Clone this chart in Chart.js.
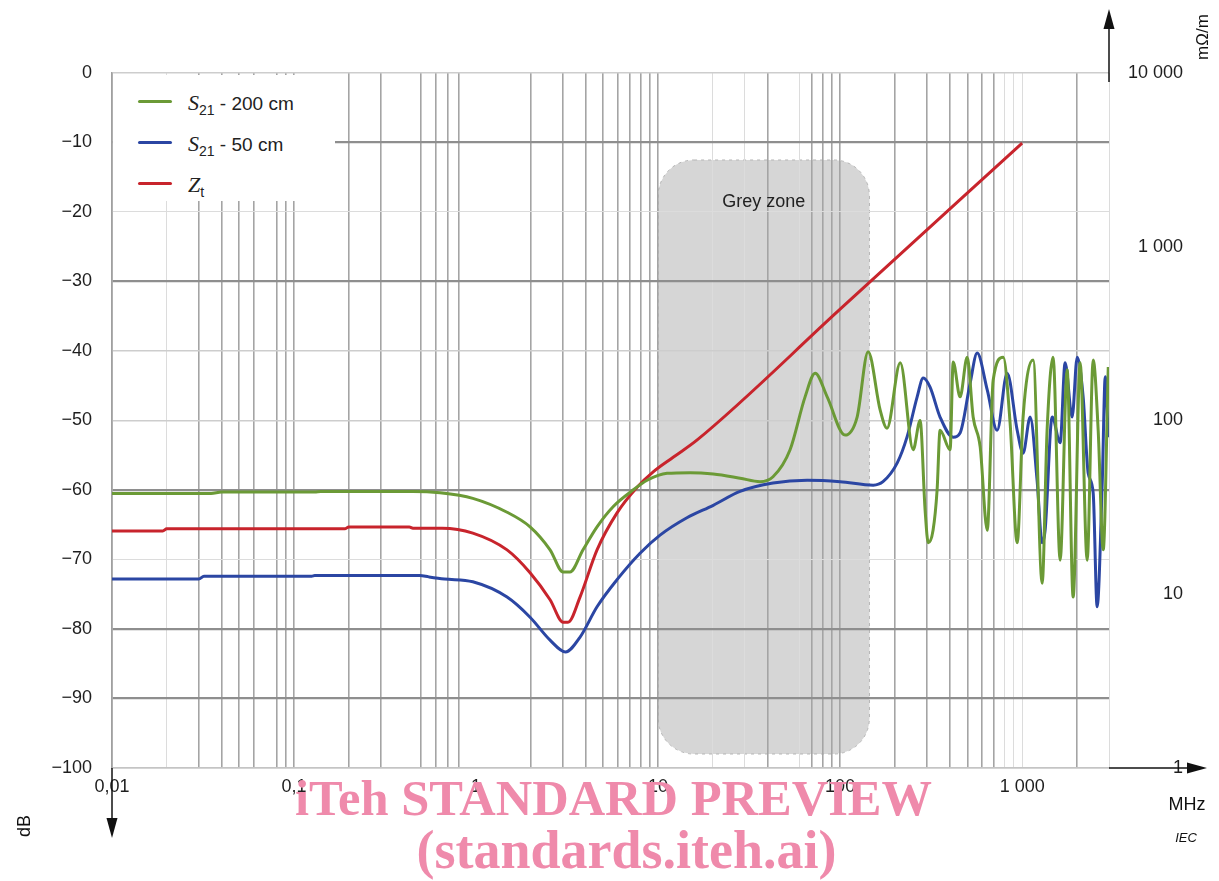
<!DOCTYPE html>
<html>
<head>
<meta charset="utf-8">
<title>S21 and Zt versus frequency</title>
<script src="https://cdn.jsdelivr.net/npm/chart.js@4.4.1/dist/chart.umd.min.js"></script>
<style>
  html, body { margin: 0; padding: 0; background: #fff; }
  #wrap { position: relative; width: 1219px; height: 881px; overflow: hidden; }
  #chart { position: absolute; left: 0; top: 0; }
  #legend { position: absolute; left: 113px; top: 75px; width: 222px; height: 126px; background: #fff; }
  .row { position: absolute; left: 0; height: 24px; width: 222px; }
  .swatch { position: absolute; left: 25px; top: 10px; width: 34px; height: 3px; border-radius: 2px; }
  .txt { position: absolute; left: 75px; top: 0; font: 19px "Liberation Sans", Arial, sans-serif; color: #222; line-height: 24px; white-space: nowrap; }
  .txt i { font: italic 22px "Liberation Serif", "Times New Roman", serif; }
  .txt sub { font-size: 14px; vertical-align: -5px; line-height: 0; }
  .mark { position: absolute; left: 0; width: 1219px; text-align: center; font-family: "Liberation Serif", "Times New Roman", serif; font-weight: bold; color: #ef8aab; white-space: nowrap; }
</style>
</head>
<body>
<div id="wrap">
  <canvas id="chart" width="1219" height="881"></canvas>
  <div id="legend">
    <div class="row" style="top:15px"><div class="swatch" style="background:#6b9a36"></div><div class="txt"><i>S</i><sub>21</sub> - 200 cm</div></div>
    <div class="row" style="top:56px"><div class="swatch" style="background:#2b46a3"></div><div class="txt"><i>S</i><sub>21</sub> - 50 cm</div></div>
    <div class="row" style="top:97px"><div class="swatch" style="background:#c8242c"></div><div class="txt"><i>Z</i><sub>t</sub></div></div>
  </div>
  <div class="mark" style="top:773px; left:4px; font-size:50.5px; line-height:50px;">iTeh STANDARD PREVIEW</div>
  <div class="mark" style="top:823px; left:17px; font-size:54px; line-height:54px;">(standards.iteh.ai)</div>
</div>
<script>
// S21 - 200 cm (MHz, dB)
var s21LongFreq = [0.01, 0.035, 0.04, 0.13, 0.14, 0.45, 0.634, 0.96, 1.48, 1.98, 2.55, 3.01, 3.28, 3.87, 4.62, 5.66, 7.29, 8.71,
  11.2, 15.0, 20.1, 28.2, 36.3, 42.8, 53.1, 64.2, 72.9, 84.9, 106.4, 124, 142.5, 166, 181, 214,
  252, 275, 293, 305, 324, 341, 354, 402, 418, 456, 499, 538, 588, 643, 693, 787, 859, 939, 1012,
  1149, 1288, 1371, 1479, 1617, 1767, 1906, 2083, 2276, 2456, 2616, 2788, 2972];
var s21LongDb = [-60.5, -60.5, -60.3, -60.3, -60.2, -60.2, -60.4, -61.2, -63.2, -65.3, -68.6, -71.8, -71.8, -68.6, -65.3, -62.4, -60.0, -58.6,
  -57.6, -57.5, -57.7, -58.3, -58.8, -58.1, -54.2, -46.6, -43.2, -46.6, -52.1, -49.5, -40.1, -48.5, -51.1, -41.7,
  -54.2, -50.0, -62.9, -67.6, -65.8, -60.0, -51.4, -54.2, -41.6, -46.6, -40.9, -49.5, -53.8, -65.8, -44.2, -40.9, -50.4, -67.6, -49.5,
  -41.3, -73.4, -51.4, -40.9, -70.1, -42.7, -75.4, -41.7, -70.1, -41.3, -51.4, -68.6, -42.3];

// S21 - 50 cm (MHz, dB)
var s21ShortFreq = [0.01, 0.03, 0.032, 0.125, 0.13, 0.49, 0.55, 0.67, 0.96, 1.48, 1.98, 2.55, 3.1, 3.72, 4.62, 5.95, 7.96, 10.25,
  14.4, 20.1, 28.2, 42.8, 65.9, 100, 152, 172, 206, 233, 265, 286, 312, 354, 418, 456, 518, 566, 643, 729,
  827, 939, 1012, 1107, 1208, 1288, 1337, 1462, 1617, 1722, 1882, 2006, 2163, 2306, 2456, 2582, 2754, 2861, 2972];
var s21ShortDb = [-72.8, -72.8, -72.4, -72.4, -72.3, -72.3, -72.5, -72.8, -73.2, -75.4, -78.3, -81.6, -83.3, -81.2, -76.8, -72.9, -69.1, -66.5,
  -64.0, -62.2, -60.2, -59.0, -58.6, -58.8, -59.3, -58.8, -56.1, -52.4, -46.6, -43.9, -45.2, -49.5, -52.4, -51.8, -44.6, -40.3, -45.6, -51.4,
  -43.2, -51.4, -54.7, -49.5, -58.6, -67.6, -65.8, -49.5, -53.2, -41.7, -49.5, -40.9, -46.6, -57.6, -60.4, -76.8, -59.0, -43.7, -52.4];

// Zt (MHz, mOhm/m, right axis)
var ztFreq = [0.01, 0.019, 0.02, 0.19, 0.2, 0.43, 0.45, 0.65, 0.96, 1.48, 1.98, 2.55, 3.01, 3.2, 3.72, 4.62, 5.95, 7.67, 9.4, 12.1, 16.4, 100, 1000];
var ztValue = [23.1, 23.1, 23.8, 23.8, 24.4, 24.4, 24.0, 24.0, 22.5, 18.0, 13.3, 9.3, 6.9, 6.9, 9.6, 18.0, 29.4, 41.3, 50.6, 61.4, 77.3, 437, 3950];

// grey zone (MHz, dB)
var greyZoneFreq = [10, 145];
var greyZoneDb = [-12.5, -98];

// tick labels
var xTickValues = [0.01, 0.1, 1, 10, 100, 1000];
var xTickLabels = ['0,01', '0,1', '1', '10', '100', '1 000'];
var zTickValues = [1, 10, 100, 1000, 10000];
var zTickLabels = ['1', '10', '100', '1 000', '10 000'];

// grid look taken from the figure
var xGridHidden = ['7e-2', '4e-1', '9e-1', '1e0', '5e1'];
var xGridFaint = ['2e-2', '2e1', '3e1', '6e1', '8e2', '9e2', '1e3', '3e3'];
var yGridDark = [-10, -30, -60, -80, -90];
var yGridFaint = [-20, -70];

var FONT = '"Liberation Sans", Arial, sans-serif';
Chart.defaults.font.family = FONT;
Chart.defaults.color = '#1e1e1e';

function pairs(xs, ys) {
  return xs.map(function (x, i) { return { x: x, y: ys[i] }; });
}

function xKind(v) {
  var e = Math.floor(Math.log10(v) + 1e-9);
  var m = Math.round(v / Math.pow(10, e));
  var key = m + 'e' + e;
  if (xGridHidden.indexOf(key) >= 0) return 'none';
  if (xGridFaint.indexOf(key) >= 0) return 'faint';
  return 'normal';
}

function yKind(v) {
  if (yGridDark.indexOf(v) >= 0) return 'dark';
  if (yGridFaint.indexOf(v) >= 0) return 'faint';
  return 'light';
}

var gridColors = { normal: '#a4a4a4', faint: '#dcdcdc', none: 'rgba(0,0,0,0)', dark: '#8e8e8e', light: '#cdcdcd' };
var gridWidths = { normal: 1.6, faint: 1, none: 1, dark: 2.2, light: 1.5 };

function arrow(ctx, x1, y1, x2, y2) {
  var a = Math.atan2(y2 - y1, x2 - x1);
  var len = 20, half = 5.5;
  var bx = x2 - len * Math.cos(a), by = y2 - len * Math.sin(a);
  ctx.beginPath();
  ctx.moveTo(x1, y1);
  ctx.lineTo(bx, by);
  ctx.stroke();
  ctx.beginPath();
  ctx.moveTo(x2, y2);
  ctx.lineTo(bx + half * Math.sin(a), by - half * Math.cos(a));
  ctx.lineTo(bx - half * Math.sin(a), by + half * Math.cos(a));
  ctx.closePath();
  ctx.fill();
}

var decorPlugin = {
  id: 'decor',
  beforeDraw: function (chart) {
    // grey zone sits under the grid
    var ctx = chart.ctx, sx = chart.scales.x, sy = chart.scales.y;
    var l = sx.getPixelForValue(greyZoneFreq[0]), r = sx.getPixelForValue(greyZoneFreq[1]);
    var t = sy.getPixelForValue(greyZoneDb[0]), b = sy.getPixelForValue(greyZoneDb[1]);
    ctx.save();
    ctx.beginPath();
    ctx.roundRect(l, t, r - l, b - t, 36);
    ctx.fillStyle = '#d6d6d6';
    ctx.fill();
    ctx.setLineDash([3, 4]);
    ctx.strokeStyle = 'rgba(120,120,120,0.45)';
    ctx.lineWidth = 1;
    ctx.stroke();
    ctx.restore();
  },
  beforeDatasetsDraw: function (chart) {
    var ctx = chart.ctx, sx = chart.scales.x, sy = chart.scales.y;
    var l = sx.getPixelForValue(greyZoneFreq[0]), r = sx.getPixelForValue(greyZoneFreq[1]);
    var t = sy.getPixelForValue(greyZoneDb[0]);
    ctx.save();
    ctx.fillStyle = '#222';
    ctx.font = '18px ' + FONT;
    ctx.textAlign = 'center';
    ctx.textBaseline = 'middle';
    ctx.fillText('Grey zone', (l + r) / 2, t + 42);
    ctx.restore();
  },
  afterDraw: function (chart) {
    // axis arrows and unit labels
    var ctx = chart.ctx, a = chart.chartArea;
    ctx.save();
    ctx.strokeStyle = '#111';
    ctx.fillStyle = '#111';
    ctx.lineWidth = 1.5;
    arrow(ctx, a.right, a.top + 9, a.right, 9);
    arrow(ctx, a.right, a.bottom, 1207, a.bottom);
    arrow(ctx, a.left, a.bottom, a.left, 838);
    ctx.font = '18px ' + FONT;
    ctx.textAlign = 'center';
    ctx.textBaseline = 'middle';
    ctx.fillText('MHz', 1187, 805);
    ctx.font = 'italic 13px ' + FONT;
    ctx.fillText('IEC', 1186, 838);
    ctx.font = '18px ' + FONT;
    ctx.translate(25, 826);
    ctx.rotate(-Math.PI / 2);
    ctx.fillText('dB', 0, 0);
    ctx.rotate(Math.PI / 2);
    ctx.translate(1203 - 25, 37 - 826);
    ctx.rotate(-Math.PI / 2);
    ctx.font = '17px ' + FONT;
    ctx.fillText('m\u03A9/m', 0, 0);
    ctx.restore();
  }
};

var lineStyle = { pointRadius: 0, borderWidth: 3, fill: false, cubicInterpolationMode: 'monotone' };

var chart = new Chart(document.getElementById('chart').getContext('2d'), {
  type: 'line',
  data: {
    datasets: [
      Object.assign({ label: 'S21 - 200 cm', data: pairs(s21LongFreq, s21LongDb), borderColor: '#6b9a36', yAxisID: 'y' }, lineStyle),
      Object.assign({ label: 'S21 - 50 cm', data: pairs(s21ShortFreq, s21ShortDb), borderColor: '#2b46a3', yAxisID: 'y' }, lineStyle),
      Object.assign({ label: 'Zt', data: pairs(ztFreq, ztValue), borderColor: '#c8242c', yAxisID: 'y2' }, lineStyle)
    ]
  },
  options: {
    responsive: false,
    animation: false,
    parsing: false,
    layout: { padding: { top: 73, right: 36, left: 0, bottom: 0 } },
    plugins: { legend: { display: false }, tooltip: { enabled: false } },
    scales: {
      x: {
        type: 'logarithmic',
        min: 0.01,
        max: 3000,
        afterBuildTicks: function (scale) {
          var ticks = [];
          for (var e = -2; e <= 3; e++) {
            for (var m = 1; m <= 9; m++) {
              var v = Number((m * Math.pow(10, e)).toPrecision(3));
              if (v <= 3000) ticks.push({ value: v });
            }
          }
          scale.ticks = ticks;
        },
        afterFit: function (scale) { scale.height = 113; },
        ticks: {
          autoSkip: false,
          maxRotation: 0,
          minRotation: 0,
          padding: 8,
          font: { size: 18 },
          callback: function (value) {
            for (var i = 0; i < xTickValues.length; i++) {
              if (Math.abs(xTickValues[i] - value) / value < 1e-6) return xTickLabels[i];
            }
            return '';
          }
        },
        grid: {
          drawTicks: false,
          color: function (c) { return gridColors[xKind(c.tick.value)]; },
          lineWidth: function (c) { return gridWidths[xKind(c.tick.value)]; }
        },
        border: { color: '#c4c4c4', width: 1.5 }
      },
      y: {
        type: 'linear',
        position: 'left',
        min: -100,
        max: 0,
        afterFit: function (scale) { scale.width = 112; },
        ticks: {
          stepSize: 10,
          padding: 20,
          font: { size: 18 },
          callback: function (value) { return String(value).replace('-', '\u2212'); }
        },
        grid: {
          drawTicks: false,
          color: function (c) { return gridColors[yKind(c.tick.value)]; },
          lineWidth: function (c) { return gridWidths[yKind(c.tick.value)]; }
        },
        border: { color: '#a0a0a0', width: 1.6 }
      },
      y2: {
        type: 'logarithmic',
        position: 'right',
        min: 1,
        max: 10000,
        afterBuildTicks: function (scale) {
          scale.ticks = zTickValues.map(function (v) { return { value: v }; });
        },
        afterFit: function (scale) { scale.width = 74; },
        ticks: {
          padding: 0,
          crossAlign: 'far',
          font: { size: 18 },
          callback: function (value) {
            var i = zTickValues.indexOf(value);
            return i >= 0 ? zTickLabels[i] : '';
          }
        },
        grid: { display: false, drawTicks: false },
        border: { display: false }
      }
    }
  },
  plugins: [decorPlugin]
});
</script>
</body>
</html>
